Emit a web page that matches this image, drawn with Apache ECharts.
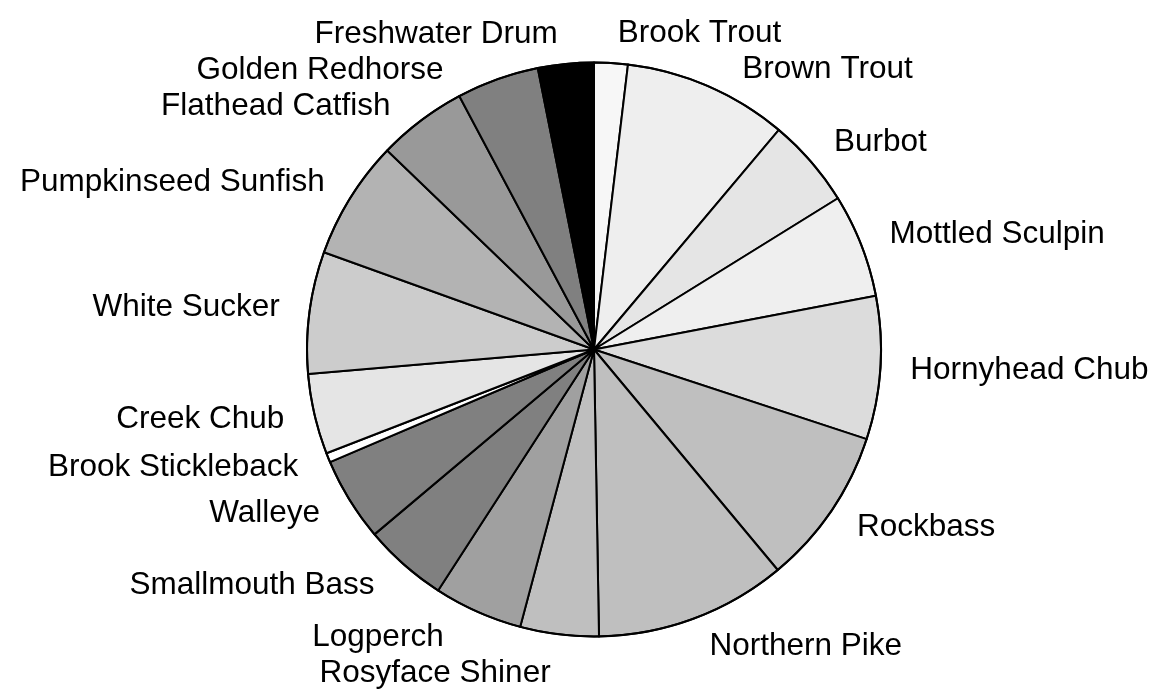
<!DOCTYPE html>
<html>
<head>
<meta charset="utf-8">
<script src="https://cdn.jsdelivr.net/npm/echarts@6/dist/echarts.min.js"></script>
<style>
html,body{margin:0;padding:0;background:#fff;}
#chart{width:1158px;height:691px;}
</style>
</head>
<body>
<div id="chart"></div>
<script>
const categories = ["Brook Trout","Brown Trout","Burbot","Mottled Sculpin","Hornyhead Chub","Rockbass","Northern Pike","Rosyface Shiner","Logperch","Smallmouth Bass","Walleye","Brook Stickleback","Creek Chub","White Sucker","Pumpkinseed Sunfish","Flathead Catfish","Golden Redhorse","Freshwater Drum"];
const values = [6.8,33.3,18.1,21.0,29.0,32.0,38.8,15.9,18.0,17.0,17.0,1.9,16.3,24.7,24.1,18.1,16.7,11.3];
const colors = ["#f7f7f7","#eeeeee","#e5e5e5","#efefef","#dcdcdc","#bfbfbf","#bfbfbf","#bfbfbf","#a0a0a0","#808080","#808080","#ffffff","#e5e5e5","#cccccc","#b3b3b3","#999999","#808080","#000000"];

const chart = echarts.init(document.getElementById('chart'), null, {renderer:'canvas'});
const data = categories.map((c,i)=>({name:c, value:values[i], itemStyle:{color:colors[i]}}));
chart.setOption({
  animation:false,
  backgroundColor:'#ffffff',
  series:[{
    type:'pie',
    center:[594,349.5],
    radius:[0,287],
    startAngle:90,
    clockwise:true,
    avoidLabelOverlap:true,
    labelLayout:{hideOverlap:false},
    data:data,
    itemStyle:{borderColor:'#000',borderWidth:2},
    label:{show:true,position:'outside',overflow:'none',edgeDistance:0,color:'#000',fontSize:31.5,lineHeight:34,fontFamily:'Liberation Sans, Arial, sans-serif',formatter:'{b}'},
    labelLine:{show:false,length:30,length2:0},
    emphasis:{disabled:true}
  },{
    type:'pie',
    center:[594,349.5],
    radius:[286,288],
    silent:true,
    label:{show:false},
    labelLine:{show:false},
    data:[{value:1,itemStyle:{color:'#000'}}]
  }]
});
</script>
</body>
</html>
